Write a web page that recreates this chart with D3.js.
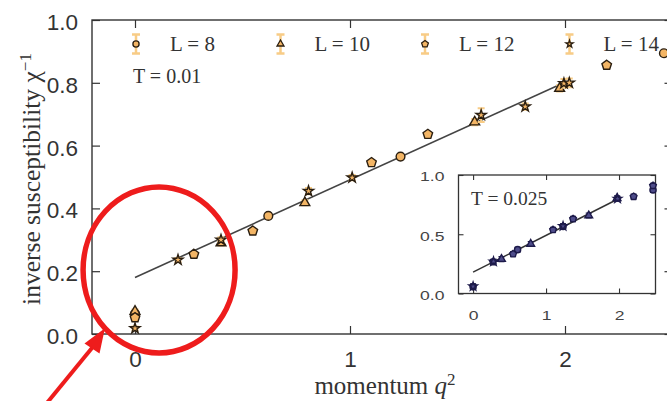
<!DOCTYPE html>
<html>
<head>
<meta charset="utf-8">
<script src="https://cdn.jsdelivr.net/npm/d3@7"></script>
<style>
  body { margin: 0; background: #fff; }
  svg { display: block; font-family: 'Liberation Serif', 'Times New Roman', serif; }
</style>
</head>
<body>
<script>
/* global d3 */

// Size of the page
const width = 667;
const height = 401;

// Main panel, T = 0.01  (q^2, chi^-1, error)
const l8Q = [0, 0.62, 1.235, 2.46];
const l8Chi = [0.065, 0.376, 0.565, 0.894];
const l8Err = [0.006, 0.006, 0.006, 0.008];

const l10Q = [0, 0.4, 0.79, 1.58, 1.975];
const l10Chi = [0.072, 0.29, 0.418, 0.675, 0.782];
const l10Err = [0.006, 0.008, 0.008, 0.01, 0.01];

const l12Q = [0, 0.274, 0.548, 1.10, 1.362, 2.194];
const l12Chi = [0.052, 0.254, 0.328, 0.546, 0.636, 0.856];
const l12Err = [0.005, 0.006, 0.006, 0.006, 0.006, 0.008];

const l14Q = [0, 0.2, 0.4, 0.807, 1.01, 1.61, 1.815, 1.995, 2.02];
const l14Chi = [0.018, 0.236, 0.30, 0.455, 0.498, 0.697, 0.724, 0.798, 0.80];
const l14Err = [0.006, 0.006, 0.008, 0.01, 0.008, 0.022, 0.01, 0.014, 0.014];

// linear fit drawn in both panels
const fitQ = [0, 2];
const fitChi = [0.18, 0.802];

// Inset, T = 0.025
const inL8Q = [0, 0.61, 1.233, 2.466];
const inL8Chi = [0.056, 0.37, 0.566, 0.874];
const inL10Q = [0.389, 0.79, 1.585, 1.973];
const inL10Chi = [0.29, 0.418, 0.658, 0.804];
const inL12Q = [0.274, 0.548, 1.096, 1.37, 2.2, 2.466];
const inL12Chi = [0.266, 0.333, 0.538, 0.63, 0.818, 0.91];
const inL14Q = [0.0, 0.28, 1.233, 1.98];
const inL14Chi = [0.06, 0.27, 0.568, 0.80];
const inErr = 0.02;

const xTicks = [0, 1, 2];
const yTicks = [0, 0.2, 0.4, 0.6, 0.8, 1.0];
const inYTicks = [0, 0.5, 1.0];
const legendLabels = ['L = 8', 'L = 10', 'L = 12', 'L = 14'];

// Colours
const markFill = '#f3b565';
const errColor = '#f8cc86';
const edge = '#2a1e10';
const inFill = '#4e4c8a';
const inEdge = '#1d1a4a';

// pentagon symbol (d3 has none)
const symbolPentagon = {
  draw(context, size) {
    const r = Math.sqrt(size / 2.378);
    for (let i = 0; i < 5; i += 1) {
      const a = -Math.PI / 2 + (i * 2 * Math.PI) / 5;
      if (i === 0) context.moveTo(r * Math.cos(a), r * Math.sin(a));
      else context.lineTo(r * Math.cos(a), r * Math.sin(a));
    }
    context.closePath();
  },
};

const series = [
  { q: l8Q, chi: l8Chi, err: l8Err, type: d3.symbolCircle, size: 60 },
  { q: l10Q, chi: l10Chi, err: l10Err, type: d3.symbolTriangle, size: 42 },
  { q: l12Q, chi: l12Chi, err: l12Err, type: symbolPentagon, size: 60 },
  { q: l14Q, chi: l14Chi, err: l14Err, type: d3.symbolStar, size: 32 },
];
const insetSeries = [
  { q: inL8Q, chi: inL8Chi, type: d3.symbolCircle, size: 30 },
  { q: inL10Q, chi: inL10Chi, type: d3.symbolTriangle, size: 26 },
  { q: inL12Q, chi: inL12Chi, type: symbolPentagon, size: 30 },
  { q: inL14Q, chi: inL14Chi, type: d3.symbolStar, size: 22 },
];

const svg = d3.select('body')
  .append('svg')
  .attr('width', width)
  .attr('height', height);

// Scales
const x = d3.scaleLinear().domain([-0.2, 2.5]).range([92, 672.5]);
const y = d3.scaleLinear().domain([0, 1]).range([334, 20]);

// Main axes (ticks point inwards)
const yAxisG = svg.append('g')
  .attr('transform', `translate(${x.range()[0]},0)`)
  .call(d3.axisLeft(y).tickValues(yTicks).tickFormat(d3.format('.1f'))
    .tickSize(-8).tickPadding(14));
yAxisG.selectAll('text').attr('font-size', '22.5px').attr('fill', '#333')
  .attr('dy', '0.42em');

const xAxisG = svg.append('g')
  .attr('transform', `translate(0,${y(0)})`)
  .call(d3.axisBottom(x).tickValues(xTicks).tickFormat(d3.format('d'))
    .tickSize(-8).tickPadding(17));
xAxisG.selectAll('text').attr('font-size', '22.5px').attr('fill', '#333');

svg.append('g')
  .attr('transform', `translate(0,${y(1)})`)
  .call(d3.axisTop(x).tickValues(xTicks).tickFormat('').tickSize(-8));
svg.append('g')
  .attr('transform', `translate(${x.range()[1]},0)`)
  .call(d3.axisRight(y).tickValues(yTicks).tickFormat('').tickSize(-8));

svg.selectAll('.domain').remove();
svg.selectAll('.tick line').attr('stroke', '#333').attr('stroke-width', 1.2);

svg.append('rect')
  .attr('x', x.range()[0])
  .attr('y', y(1))
  .attr('width', x.range()[1] - x.range()[0])
  .attr('height', y(0) - y(1))
  .attr('fill', 'none')
  .attr('stroke', '#333')
  .attr('stroke-width', 1.4);

// Axis labels
svg.append('text')
  .attr('x', 385)
  .attr('y', 394)
  .attr('text-anchor', 'middle')
  .attr('font-size', '25px')
  .attr('fill', '#333')
  .html('momentum <tspan font-style="italic">q</tspan><tspan baseline-shift="super" font-size="17px">2</tspan>');

svg.append('text')
  .attr('transform', `translate(40,${(y(0) + y(1)) / 2 + 2}) rotate(-90)`)
  .attr('text-anchor', 'middle')
  .attr('font-size', '25.5px')
  .attr('fill', '#333')
  .html('inverse susceptibility χ<tspan baseline-shift="super" font-size="17px">−1</tspan>');

// Fit line
const fitLine = d3.line().x((d) => d[0]).y((d) => d[1]);
svg.append('path')
  .attr('d', fitLine(fitQ.map((q, i) => [x(q), y(fitChi[i])])))
  .attr('stroke', '#444')
  .attr('stroke-width', 1.6)
  .attr('fill', 'none');

// Error bars + markers
series.forEach((s) => {
  const g = svg.append('g');
  const pts = s.q.map((q, i) => ({ q, chi: s.chi[i], err: s.err[i] }));
  g.selectAll('.err')
    .data(pts)
    .join('path')
    .attr('d', (d) => {
      const cx = x(d.q);
      const y0 = y(d.chi - d.err);
      const y1 = y(d.chi + d.err);
      return `M${cx},${y0}V${y1}M${cx - 3.5},${y0}H${cx + 3.5}M${cx - 3.5},${y1}H${cx + 3.5}`;
    })
    .attr('stroke', errColor)
    .attr('stroke-width', 2)
    .attr('fill', 'none');
  g.selectAll('.mark')
    .data(pts)
    .join('path')
    .attr('transform', (d) => `translate(${x(d.q)},${y(d.chi)})`)
    .attr('d', d3.symbol().type(s.type).size(s.size))
    .attr('fill', markFill)
    .attr('stroke', edge)
    .attr('stroke-width', 1.4);
});

// Legend
const legend = svg.append('g').attr('transform', 'translate(136,44)');
legendLabels.forEach((label, i) => {
  const item = legend.append('g').attr('transform', `translate(${i * 144.5},0)`);
  item.append('path')
    .attr('d', 'M0,-9.5V9.5M-4,-9.5H4M-4,9.5H4')
    .attr('stroke', errColor)
    .attr('stroke-width', 2.5)
    .attr('fill', 'none');
  item.append('path')
    .attr('d', d3.symbol().type(series[i].type).size(series[i].size * 0.5))
    .attr('fill', markFill)
    .attr('stroke', edge)
    .attr('stroke-width', 1.3);
  item.append('text')
    .attr('x', 34)
    .attr('y', 7)
    .attr('font-size', '21px')
    .attr('fill', '#333')
    .text(label);
});

svg.append('text')
  .attr('x', 133)
  .attr('y', 83)
  .attr('font-size', '20px')
  .attr('fill', '#333')
  .text('T = 0.01');

// Inset
const ix = d3.scaleLinear().domain([-0.2, 2.5]).range([458.5, 655.5]);
const iy = d3.scaleLinear().domain([0, 1]).range([293.5, 175]);

svg.append('rect')
  .attr('x', ix.range()[0])
  .attr('y', iy(1))
  .attr('width', ix.range()[1] - ix.range()[0])
  .attr('height', iy(0) - iy(1))
  .attr('fill', '#fff');

const inset = svg.append('g');
const iyAxis = inset.append('g')
  .attr('transform', `translate(${ix.range()[0]},0)`)
  .call(d3.axisLeft(iy).tickValues(inYTicks).tickFormat(d3.format('.1f'))
    .tickSize(-5).tickPadding(0));
iyAxis.selectAll('text')
  .attr('font-size', '13px')
  .attr('fill', '#444')
  .attr('x', -14 / 1.35)
  .attr('dy', '0.45em')
  .attr('transform', 'scale(1.35,1)');

const ixAxis = inset.append('g')
  .attr('transform', `translate(0,${iy(0)})`)
  .call(d3.axisBottom(ix).tickValues(xTicks).tickFormat(d3.format('d'))
    .tickSize(-5).tickPadding(17));
ixAxis.selectAll('text')
  .attr('font-size', '13px')
  .attr('fill', '#444')
  .attr('transform', 'scale(1.35,1)')
  .attr('x', 0);

inset.append('g')
  .attr('transform', `translate(0,${iy(1)})`)
  .call(d3.axisTop(ix).tickValues(xTicks).tickFormat('').tickSize(-5));
inset.append('g')
  .attr('transform', `translate(${ix.range()[1]},0)`)
  .call(d3.axisRight(iy).tickValues(inYTicks).tickFormat('').tickSize(-5));

inset.selectAll('.domain').remove();
inset.selectAll('.tick line').attr('stroke', '#333').attr('stroke-width', 1.1);

inset.append('rect')
  .attr('x', ix.range()[0])
  .attr('y', iy(1))
  .attr('width', ix.range()[1] - ix.range()[0])
  .attr('height', iy(0) - iy(1))
  .attr('fill', 'none')
  .attr('stroke', '#333')
  .attr('stroke-width', 1.3);

inset.append('path')
  .attr('d', fitLine(fitQ.map((q, i) => [ix(q), iy(fitChi[i])])))
  .attr('stroke', '#333')
  .attr('stroke-width', 1.5)
  .attr('fill', 'none');

insetSeries.forEach((s) => {
  const pts = s.q.map((q, i) => ({ q, chi: s.chi[i] }));
  const g = inset.append('g');
  g.selectAll('.err')
    .data(pts)
    .join('path')
    .attr('d', (d) => {
      const cx = ix(d.q);
      const y0 = iy(d.chi - inErr);
      const y1 = iy(d.chi + inErr);
      return `M${cx},${y0}V${y1}M${cx - 3},${y0}H${cx + 3}M${cx - 3},${y1}H${cx + 3}`;
    })
    .attr('stroke', inEdge)
    .attr('stroke-width', 1.3)
    .attr('fill', 'none');
  g.selectAll('.mark')
    .data(pts)
    .join('path')
    .attr('transform', (d) => `translate(${ix(d.q)},${iy(d.chi)})`)
    .attr('d', d3.symbol().type(s.type).size(s.size))
    .attr('fill', inFill)
    .attr('stroke', inEdge)
    .attr('stroke-width', 1.4);
});

inset.append('text')
  .attr('x', 471)
  .attr('y', 205)
  .attr('font-size', '19.5px')
  .attr('fill', '#333')
  .text('T = 0.025');

// Red annotation: circle round q = 0 and an arrow pointing at it
svg.append('ellipse')
  .attr('cx', x(0.112))
  .attr('cy', y(0.204))
  .attr('rx', 76)
  .attr('ry', 83)
  .attr('fill', 'none')
  .attr('stroke', '#ee1c1c')
  .attr('stroke-width', 5.5);

svg.append('line')
  .attr('x1', x(-0.41))
  .attr('y1', y(-0.22))
  .attr('x2', x(-0.165))
  .attr('y2', y(-0.015))
  .attr('stroke', '#ee1c1c')
  .attr('stroke-width', 4);

svg.append('path')
  .attr('d', `M${x(-0.14)},${y(0.018)}L${x(-0.235)},${y(-0.03)}L${x(-0.165)},${y(-0.062)}Z`)
  .attr('fill', '#ee1c1c');
</script>
</body>
</html>
